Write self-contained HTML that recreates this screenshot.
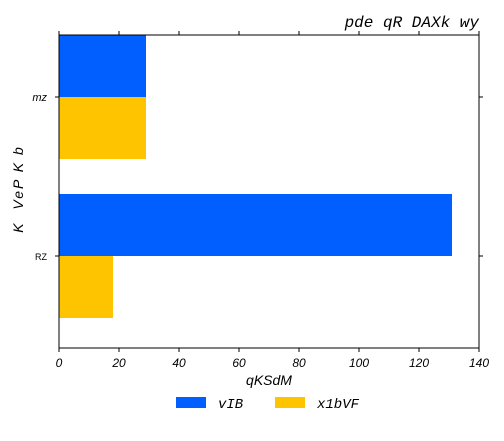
<!DOCTYPE html>
<html><head><meta charset="utf-8"><style>body{margin:0;background:#fff}svg{display:block}</style></head>
<body>
<svg width="504" height="441" xmlns="http://www.w3.org/2000/svg">
<g id="g"></g>
</svg>
<script>
const categories=["mz","RZ"];
const seriesNames=["vIB","x1bVF"];
const seriesA=[29,131];
const seriesB=[29,18];
const xTicks=[0,20,40,60,80,100,120,140];
const colors=["#005ffe","#ffc400"];
const L=59,R=479,T=35,B=348;
const x=v=>L+(v-0)/(140-0)*(R-L);
const band=(B-T)/categories.length;
const g=document.getElementById('g');
const NS="http://www.w3.org/2000/svg";
function mk(t,a,p){const e=document.createElementNS(NS,t);for(const k in a)e.setAttribute(k,a[k]);(p||g).appendChild(e);return e;}
const bh=62;
categories.forEach((c,i)=>{
  const yc=T+62+i*159;
  [seriesA,seriesB].forEach((s,j)=>{
    const r=mk('rect',{x:x(0),y:yc-bh+j*bh,width:x(s[i])-x(0),height:bh,fill:colors[j]});
    
    
  });
  mk('line',{x1:L-4,x2:L,y1:yc,y2:yc,stroke:'#000'});
  mk('line',{x1:R,x2:R+4,y1:yc,y2:yc,stroke:'#000'});
  const t=mk('text',{x:L-12,y:yc+4,'text-anchor':'end','font-size':i==0?11:9,'font-style':i==0?'italic':'normal','font-family':'Liberation Sans, sans-serif'});
  t.textContent=c;
  
  
});
xTicks.forEach(v=>{
  mk('line',{x1:x(v),x2:x(v),y1:B,y2:B+4,stroke:'#000'});
  mk('line',{x1:x(v),x2:x(v),y1:T-4,y2:T,stroke:'#000'});
  const t=mk('text',{x:x(v),y:B+19,'text-anchor':'middle','font-size':12,'font-style':'italic','font-family':'Liberation Sans, sans-serif'});
  t.textContent=v;
  
  
});
const fr=mk('rect',{x:L,y:T,width:R-L,height:B-T,fill:'none',stroke:'#000'});


</script>
<svg style="position:absolute;left:0;top:0" width="504" height="441">
<text x="479" y="27" text-anchor="end" font-family="Liberation Mono, monospace" font-style="italic" font-size="16">pde qR DAXk wy</text>
<text x="269" y="385" text-anchor="middle" font-family="Liberation Sans, sans-serif" font-style="italic" font-size="14">qKSdM</text>
<text style="white-space:pre" letter-spacing="2" transform="translate(23,189) rotate(-90)" text-anchor="middle" font-family="Liberation Sans, sans-serif" font-style="italic" font-size="14">K  VeP K b</text>
<rect x="176" y="397" width="30" height="11" fill="#005ffe"/>
<text x="218" y="408" font-family="Liberation Mono, monospace" font-style="italic" font-size="14">vIB</text>
<rect x="275" y="397" width="30" height="11" fill="#ffc400"/>
<text x="317" y="408" font-family="Liberation Mono, monospace" font-style="italic" font-size="14">x1bVF</text>
</svg>
</body></html>
